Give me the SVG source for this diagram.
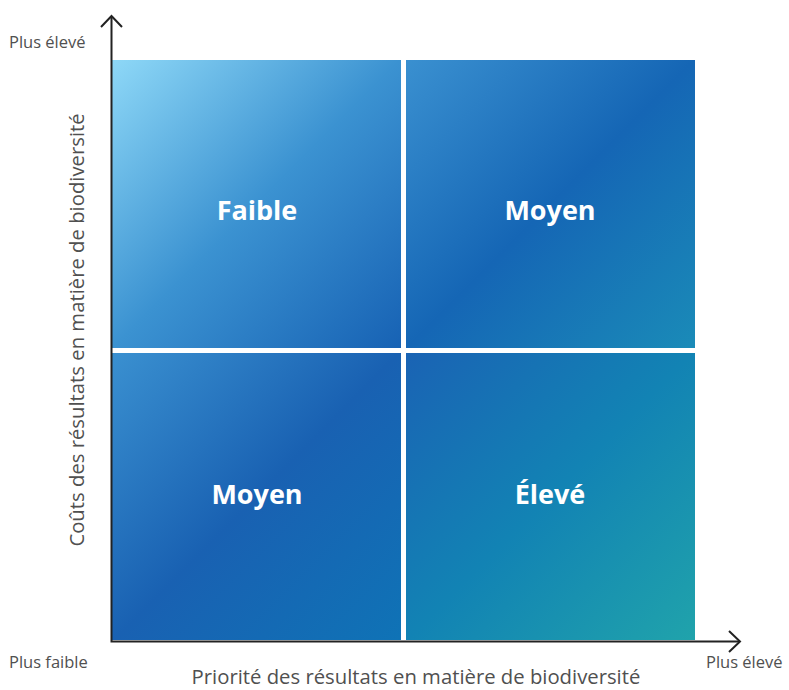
<svg xmlns="http://www.w3.org/2000/svg" width="789" height="690" viewBox="0 0 789 690">
<style>
.q{font-family:"Open Sans","Liberation Sans",sans-serif;font-weight:700;font-size:27px;fill:#fff;text-anchor:middle}
.ax{font-family:"Open Sans","Liberation Sans",sans-serif;font-size:16.5px;fill:#505050}
.tt{font-family:"Open Sans","Liberation Sans",sans-serif;font-size:20.3px;fill:#505050;text-anchor:middle}
.axis{stroke:#222;stroke-width:2;fill:none}
</style>
<defs>
<linearGradient id="gTL" gradientUnits="userSpaceOnUse" x1="112" y1="60" x2="401" y2="348">
<stop offset="0" stop-color="#8ed8f7"/><stop offset="0.5" stop-color="#3b92d1"/><stop offset="1" stop-color="#1762b4"/>
</linearGradient>
<linearGradient id="gTR" gradientUnits="userSpaceOnUse" x1="406" y1="60" x2="695" y2="348">
<stop offset="0" stop-color="#3a90d0"/><stop offset="0.5" stop-color="#1566b5"/><stop offset="1" stop-color="#1a8bb8"/>
</linearGradient>
<linearGradient id="gBL" gradientUnits="userSpaceOnUse" x1="112" y1="353" x2="401" y2="640">
<stop offset="0" stop-color="#3a90d0"/><stop offset="0.5" stop-color="#1961b2"/><stop offset="1" stop-color="#0f73b6"/>
</linearGradient>
<linearGradient id="gBR" gradientUnits="userSpaceOnUse" x1="406" y1="353" x2="695" y2="640">
<stop offset="0" stop-color="#1a63b4"/><stop offset="0.5" stop-color="#1283b4"/><stop offset="1" stop-color="#20a3ab"/>
</linearGradient>
</defs>
<g id="q-faible"><rect x="112" y="60" width="289" height="288" fill="url(#gTL)"/><text class="q" x="257" y="220">Faible</text></g>
<g id="q-moyen-top"><rect x="406" y="60" width="289" height="288" fill="url(#gTR)"/><text class="q" x="550" y="220">Moyen</text></g>
<g id="q-moyen-bottom"><rect x="112" y="353" width="289" height="287" fill="url(#gBL)"/><text class="q" x="257" y="504">Moyen</text></g>
<g id="q-eleve"><rect x="406" y="353" width="289" height="287" fill="url(#gBR)"/><text class="q" x="550" y="504">Élevé</text></g>
<g id="connectors">
<path class="axis" d="M111.5,16 V641.5 H740"/>
<path class="axis" d="M101,27 L111.5,16 L122,27"/>
<path class="axis" d="M729,631 L740,641.5 L729,652"/>
</g>
<g id="labels">
<text class="ax" x="9" y="48">Plus élevé</text>
<text class="ax" x="9" y="668">Plus faible</text>
<text class="ax" x="706" y="668">Plus élevé</text>
<text class="tt" x="416" y="684">Priorité des résultats en matière de biodiversité</text>
<text class="tt" transform="translate(84,330) rotate(-90)">Coûts des résultats en matière de biodiversité</text>
</g>
</svg>
